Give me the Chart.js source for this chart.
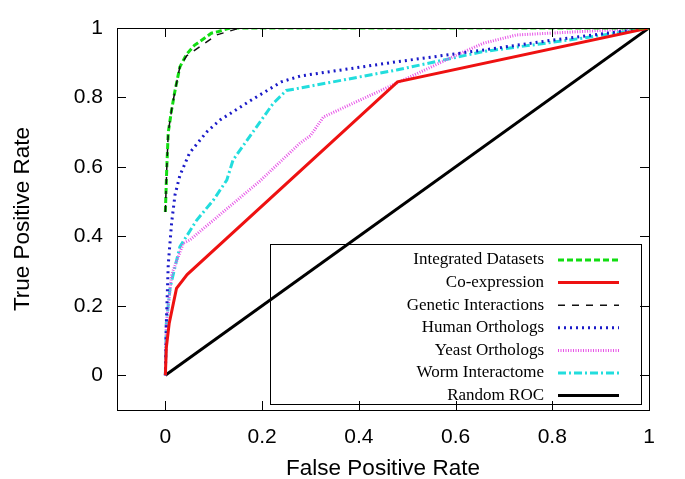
<!DOCTYPE html>
<html>
<head>
<meta charset="utf-8">
<script src="https://cdn.jsdelivr.net/npm/chart.js@4"></script>
<style>
  html, body { margin: 0; padding: 0; background: #fff; }
  #wrap { width: 685px; height: 479px; }
</style>
</head>
<body>
<div id="wrap"><canvas id="roc" width="685" height="479"></canvas></div>
<script>
// series: x = false positive rate, y = true positive rate
const seriesNames = [
  "Integrated Datasets", "Co-expression", "Genetic Interactions",
  "Human Orthologs", "Yeast Orthologs", "Worm Interactome", "Random ROC"
];

const integratedX = [0, 0.003, 0.006, 0.013, 0.02, 0.03, 0.044, 0.06, 0.08, 0.095, 0.11, 0.134, 1];
const integratedY = [0.47, 0.6, 0.7, 0.765, 0.82, 0.888, 0.925, 0.95, 0.97, 0.985, 0.99, 1, 1];

const coexprX = [0, 0.002, 0.008, 0.023, 0.045, 0.48, 1];
const coexprY = [0, 0.08, 0.15, 0.25, 0.29, 0.845, 1];

const geneticX = [0, 0.003, 0.006, 0.013, 0.02, 0.03, 0.044, 0.075, 0.106, 0.154, 1];
const geneticY = [0.47, 0.6, 0.7, 0.765, 0.82, 0.888, 0.92, 0.95, 0.98, 1, 1];

const humanX = [0, 0.002, 0.006, 0.013, 0.02, 0.03, 0.05, 0.085, 0.113, 0.175, 0.24, 0.28, 0.48, 0.66, 0.8, 1];
const humanY = [0, 0.15, 0.32, 0.44, 0.52, 0.575, 0.64, 0.7, 0.735, 0.79, 0.845, 0.862, 0.903, 0.937, 0.965, 1];

const yeastX = [0, 0.002, 0.013, 0.037, 0.051, 0.196, 0.278, 0.3, 0.327, 0.478, 0.602, 0.657, 0.726, 0.864, 1];
const yeastY = [0, 0.15, 0.29, 0.38, 0.39, 0.56, 0.668, 0.69, 0.744, 0.841, 0.922, 0.956, 0.98, 0.99, 1];

const wormX = [0, 0.002, 0.01, 0.03, 0.065, 0.099, 0.127, 0.14, 0.223, 0.25, 0.278, 0.478, 0.657, 0.864, 1];
const wormY = [0, 0.15, 0.254, 0.37, 0.447, 0.504, 0.562, 0.62, 0.783, 0.82, 0.827, 0.879, 0.932, 0.971, 1];

const randomX = [0, 1];
const randomY = [0, 1];

const tickVals = [0, 0.2, 0.4, 0.6, 0.8, 1];

const pts = (xs, ys) => xs.map((x, i) => ({ x: x, y: ys[i] }));

const styles = [
  { color: "#11dd11", width: 3, dash: [6, 3] },
  { color: "#ee1111", width: 3, dash: [] },
  { color: "#111111", width: 1.5, dash: [7, 7] },
  { color: "#1a1ac8", width: 3, dash: [2, 4] },
  { color: "#e855e8", width: 3, dash: [1, 1.5] },
  { color: "#22dddd", width: 3, dash: [8, 3, 2, 3] },
  { color: "#000000", width: 3, dash: [] },
];
const seriesData = [
  pts(integratedX, integratedY),
  pts(coexprX, coexprY),
  pts(geneticX, geneticY),
  pts(humanX, humanY),
  pts(yeastX, yeastY),
  pts(wormX, wormY),
  pts(randomX, randomY),
];

// gnuplot-like frame: box with inward ticks on all four sides
const frame = {
  id: "frame",
  afterDatasetsDraw: (chart) => {
    const ctx = chart.ctx;
    const a = chart.chartArea;
    const sx = chart.scales.x, sy = chart.scales.y;
    ctx.save();
    ctx.strokeStyle = "#000";
    ctx.lineWidth = 1;
    ctx.setLineDash([]);
    ctx.strokeRect(a.left + 0.5, a.top + 0.5, a.right - a.left, a.bottom - a.top);
    ctx.beginPath();
    tickVals.forEach((v) => {
      const px = Math.round(sx.getPixelForValue(v)) + 0.5;
      ctx.moveTo(px, a.bottom); ctx.lineTo(px, a.bottom - 9);
      ctx.moveTo(px, a.top); ctx.lineTo(px, a.top + 9);
      const py = Math.round(sy.getPixelForValue(v)) + 0.5;
      ctx.moveTo(a.left, py); ctx.lineTo(a.left + 9, py);
      ctx.moveTo(a.right, py); ctx.lineTo(a.right - 9, py);
    });
    ctx.stroke();

    // legend box (transparent), lower right inside the plot
    const bw = 371, bh = 160, rowH = 22.6;
    const bx = a.right - 8 - bw, by = a.bottom - 6 - bh;
    ctx.strokeRect(Math.round(bx) + 0.5, Math.round(by) + 0.5, bw, bh);
    ctx.font = "17px 'Liberation Serif', 'Times New Roman', serif";
    ctx.textAlign = "right";
    ctx.textBaseline = "middle";
    chart.data.datasets.forEach((ds, i) => {
      const ry = by + 16 + i * rowH;
      ctx.fillStyle = "#000";
      ctx.fillText(ds.label, bx + 274, ry);
      ctx.beginPath();
      ctx.strokeStyle = ds.borderColor;
      ctx.lineWidth = ds.borderWidth;
      ctx.setLineDash(ds.borderDash);
      ctx.moveTo(bx + 288, ry);
      ctx.lineTo(bx + 349, ry);
      ctx.stroke();
    });
    ctx.restore();
  },
};

const ctx = document.getElementById("roc").getContext("2d");
new Chart(ctx, {
  type: "scatter",
  data: {
    datasets: seriesNames.map((name, i) => ({
      label: name,
      data: seriesData[i],
      showLine: true,
      borderColor: styles[i].color,
      backgroundColor: styles[i].color,
      borderWidth: styles[i].width,
      borderDash: styles[i].dash,
      pointRadius: 0,
      tension: 0,
      order: i === 2 ? 0 : i + 1,
    })),
  },
  plugins: [frame],
  options: {
    responsive: false,
    animation: false,
    layout: { padding: { top: 28, right: 36, left: 0, bottom: 0 } },
    plugins: {
      legend: { display: false },
      tooltip: { enabled: false },
    },
    scales: {
      x: {
        min: -0.1,
        max: 1,
        afterBuildTicks: (scale) => { scale.ticks = tickVals.map((v) => ({ value: v })); },
        afterFit: (scale) => { scale.height = 69; },
        grid: { display: false, drawTicks: false },
        border: { display: false },
        ticks: {
          padding: 15,
          color: "#000",
          font: { family: "'Liberation Sans', Arial, sans-serif", size: 21 },
          maxRotation: 0,
          callback: (v) => String(+(+v).toFixed(1)),
        },
        title: {
          display: true,
          text: "False Positive Rate",
          color: "#000",
          font: { family: "'Liberation Sans', Arial, sans-serif", size: 22.5, lineHeight: 1 },
          padding: { top: 4, bottom: -1 },
        },
      },
      y: {
        min: -0.1,
        max: 1,
        afterBuildTicks: (scale) => { scale.ticks = tickVals.map((v) => ({ value: v })); },
        afterFit: (scale) => { scale.width = 117; },
        grid: { display: false, drawTicks: false },
        border: { display: false },
        ticks: {
          padding: 14,
          color: "#000",
          font: { family: "'Liberation Sans', Arial, sans-serif", size: 21 },
          callback: (v) => String(+(+v).toFixed(1)),
        },
        title: {
          display: true,
          text: "True Positive Rate",
          color: "#000",
          font: { family: "'Liberation Sans', Arial, sans-serif", size: 22.5 },
          padding: { top: 9, bottom: 0 },
        },
      },
    },
  },
});
</script>
</body>
</html>
